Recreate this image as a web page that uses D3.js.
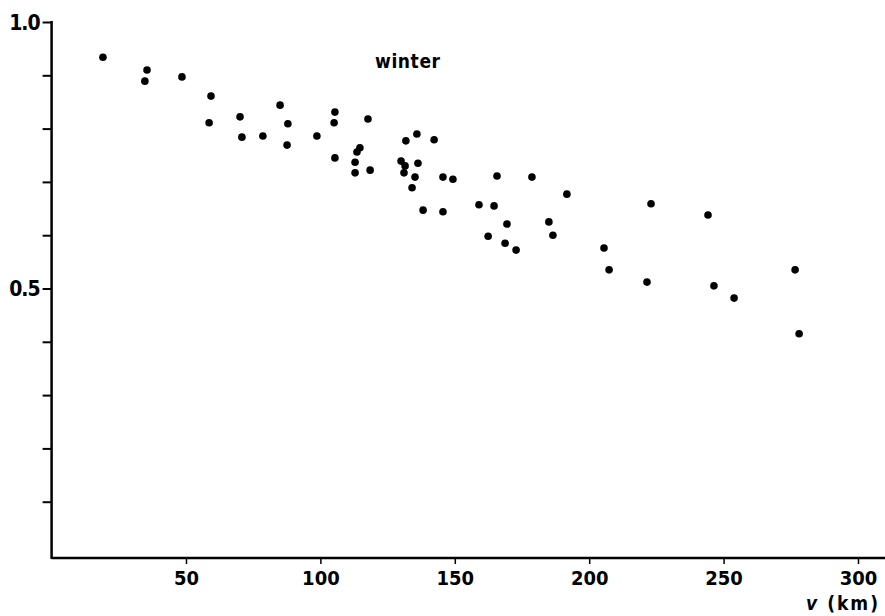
<!DOCTYPE html>
<html><head><meta charset="utf-8">
<script src="https://cdn.jsdelivr.net/npm/d3@7"></script>
<style>
body{margin:0;background:#fff;}
text{font-family:"DejaVu Sans Condensed","DejaVu Sans",sans-serif;fill:#000;}
</style></head>
<body>
<svg id="chart" width="885" height="616"></svg>
<script>
// distance v (km)
const distance = [19.1,35.5,34.7,48.5,59.3,58.6,70.1,70.8,78.6,85.0,87.9,87.6,98.7,105.4,105.1,117.7,105.4,112.9,112.9,113.6,114.7,118.5,131.8,135.9,142.3,130.0,131.5,131.1,136.3,135.2,134.1,145.6,149.3,138.2,145.6,165.7,178.7,159.0,164.6,169.4,162.4,168.7,172.8,185.0,191.7,186.5,223.0,244.2,205.5,207.4,221.5,246.4,253.9,276.6,278.1];
// correlation values (winter)
const correlation = [0.934,0.910,0.889,0.897,0.861,0.811,0.822,0.784,0.786,0.844,0.809,0.769,0.786,0.831,0.811,0.818,0.745,0.737,0.717,0.756,0.764,0.722,0.777,0.790,0.779,0.739,0.730,0.717,0.735,0.709,0.689,0.709,0.705,0.647,0.644,0.711,0.709,0.657,0.655,0.621,0.598,0.585,0.572,0.625,0.677,0.600,0.659,0.638,0.576,0.535,0.512,0.505,0.482,0.535,0.415];
const xTicks = [50,100,150,200,250,300];
const yTicks = [0.1,0.2,0.3,0.4,0.5,0.6,0.7,0.8,0.9,1.0];
const yLabels = {"0.5":"0.5","1":"1.0"};
const seasonLabel = "winter";
const xAxisTitle = "v (km)";

const svg = d3.select("#chart");
const x = d3.scaleLinear().domain([0,300]).range([51.6,858]);
const y = d3.scaleLinear().domain([0,1]).range([555,22]);
const axisY = 558;

// x axis
const gx = svg.append("g").attr("transform",`translate(0,${axisY})`)
  .call(d3.axisBottom(x).tickValues(xTicks).tickSize(6).tickPadding(7).tickFormat(d3.format("d")));
gx.select(".domain").remove();
gx.selectAll(".tick line").attr("stroke","#000").attr("stroke-width",1.5);
gx.selectAll(".tick text").attr("font-size",20).attr("font-weight","bold").attr("font-family",null);
svg.append("line").attr("x1",x(0)).attr("x2",885).attr("y1",axisY).attr("y2",axisY)
  .attr("stroke","#000").attr("stroke-width",2.5);

// y axis
const gy = svg.append("g").attr("transform",`translate(${x(0)},0)`)
  .call(d3.axisLeft(y).tickValues(yTicks).tickSize(9).tickPadding(3)
    .tickFormat(d => yLabels[String(d)] || ""));
gy.select(".domain").remove();
gy.selectAll(".tick line").attr("stroke","#000").attr("stroke-width",2);
gy.selectAll(".tick text").attr("font-size",21).attr("font-weight","bold").attr("letter-spacing",-1)
  .attr("font-family",null).attr("dy","0.35em");
svg.append("line").attr("x1",x(0)).attr("x2",x(0)).attr("y1",y(1)-1).attr("y2",axisY+1)
  .attr("stroke","#000").attr("stroke-width",2.5);

// points
svg.append("g").selectAll("circle").data(distance).join("circle")
  .attr("cx",(d)=>x(d)).attr("cy",(d,i)=>y(correlation[i])).attr("r",3.8).attr("fill","#000");

// labels
svg.append("text").attr("x",375).attr("y",68).attr("font-size",19).attr("font-weight","bold")
  .attr("letter-spacing",0.6).text(seasonLabel);
const t = svg.append("text").attr("x",880).attr("y",610).attr("text-anchor","end").attr("font-size",19)
  .attr("font-weight","bold").attr("letter-spacing",2);
t.append("tspan").attr("font-style","italic").text(xAxisTitle.slice(0,1));
t.append("tspan").text(xAxisTitle.slice(1));
</script>
</body></html>
